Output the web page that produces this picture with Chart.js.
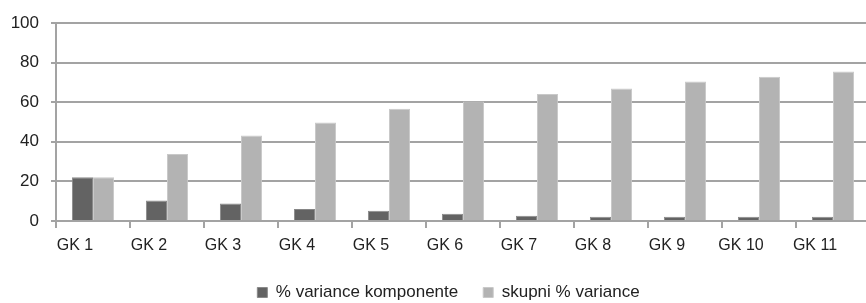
<!DOCTYPE html>
<html>
<head>
<meta charset="utf-8">
<script src="https://cdn.jsdelivr.net/npm/chart.js@4/dist/chart.umd.min.js"></script>
<style>
  html, body { margin: 0; padding: 0; background: #fff; overflow: hidden; }
  #wrap { width: 872px; height: 303px; position: relative; }
</style>
</head>
<body>
<div id="wrap"><canvas id="chart"></canvas></div>
<script>
const categories = ["GK 1", "GK 2", "GK 3", "GK 4", "GK 5", "GK 6", "GK 7", "GK 8", "GK 9", "GK 10", "GK 11"];
const componentVariance = [22.1, 10.3, 8.8, 6.1, 5.2, 3.7, 2.7, 2.2, 2.2, 2.2, 2.2];
const totalVariance = [22.1, 33.9, 43.2, 49.7, 56.7, 60.4, 64.2, 66.9, 70.5, 72.8, 75.5];
const yTicks = [0, 20, 40, 60, 80, 100];

const FONT = "'Liberation Sans Narrow', 'Liberation Sans', Arial, sans-serif";
const gridGray = "#a3a3a3";

// nudge the legend a bit right, the original is not centred on the canvas
const legendShift = {
  id: "legendShift",
  afterLayout(chart) {
    if (chart.legend) chart.legend.left += 27;
  }
};

new Chart(document.getElementById("chart"), {
  type: "bar",
  data: {
    labels: categories,
    datasets: [
      {
        label: "% variance komponente",
        data: componentVariance,
        backgroundColor: "#636363",
        borderColor: "#8a8a8a",
        borderWidth: 1
      },
      {
        label: "skupni % variance",
        data: totalVariance,
        backgroundColor: "#b3b3b3",
        borderColor: "#c9c9c9",
        borderWidth: 1
      }
    ]
  },
  plugins: [legendShift],
  options: {
    responsive: true,
    maintainAspectRatio: false,
    animation: false,
    datasets: { bar: { barPercentage: 1, categoryPercentage: 0.57 } },
    layout: { padding: { top: 23, left: 0, right: 2, bottom: -8 } },
    plugins: {
      tooltip: { enabled: false },
      legend: {
        position: "bottom",
        labels: {
          color: "#222",
          font: { family: FONT, size: 17 },
          boxWidth: 10,
          boxHeight: 10,
          padding: 25
        }
      }
    },
    scales: {
      x: {
        grid: {
          display: true,
          drawOnChartArea: false,
          drawTicks: true,
          tickLength: 7,
          color: gridGray,
          lineWidth: 2
        },
        border: { color: gridGray, width: 2 },
        ticks: {
          color: "#222",
          font: { family: FONT, size: 16 },
          padding: 8,
          labelOffset: -18,
          maxRotation: 0
        },
        afterFit: s => { s.height = 38; }
      },
      y: {
        min: 0,
        max: 100,
        afterBuildTicks: s => { s.ticks = yTicks.map(v => ({ value: v })); },
        grid: { color: gridGray, lineWidth: 2, tickLength: 5 },
        border: { color: gridGray, width: 2 },
        ticks: {
          color: "#222",
          font: { family: FONT, size: 17 },
          padding: 12
        },
        afterFit: s => { s.width = 56; }
      }
    }
  }
});
</script>
</body>
</html>
